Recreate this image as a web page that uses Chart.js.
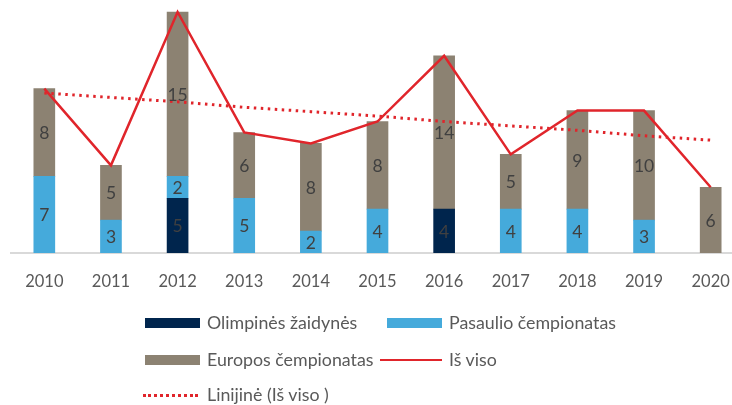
<!DOCTYPE html>
<html>
<head>
<meta charset="utf-8">
<script src="https://cdn.jsdelivr.net/npm/chart.js@4"></script>
<style>
  body { margin: 0; width: 732px; height: 405px; overflow: hidden; background: #fff; font-family: Lato, "Open Sans", sans-serif; }
  #wrap { position: absolute; left: 0; top: 0; width: 745px; height: 405px; }
  .leg { position: absolute; font-size: 17.8px; color: #595959; white-space: nowrap; line-height: 22px; }
  .sw { position: absolute; }
</style>
</head>
<body>
<div id="wrap"><canvas id="grafikas"></canvas></div>
<div id="legenda"></div>
<script>
const metai = ['2010', '2011', '2012', '2013', '2014', '2015', '2016', '2017', '2018', '2019', '2020'];
const olimpines = [null, null, 5, null, null, null, 4, null, null, null, null];
const pasaulio = [7, 3, 2, 5, 2, 4, null, 4, 4, 3, null];
const europos = [8, 5, 15, 6, 8, 8, 14, 5, 9, 10, 6];
const isViso = [15, 8, 22, 11, 10, 12, 18, 9, 13, 13, 6];
// trend line
const linijine = [14.6, 14.2, 13.8, 13.3, 12.9, 12.5, 12.0, 11.6, 11.2, 10.7, 10.3];

const pavadinimai = ['Olimpinės žaidynės', 'Pasaulio čempionatas', 'Europos čempionatas', 'Iš viso', 'Linijinė (Iš viso )'];
const spalvos = ['#00254D', '#45AADB', '#8C8272', '#E0252B', '#E0252B'];

const reiksmiuZymes = {
    id: 'reiksmiuZymes',
    afterDatasetsDraw(chart) {
        const ctx = chart.ctx;
        ctx.save();
        ctx.font = '17.5px Lato, "Open Sans", sans-serif';
        ctx.fillStyle = '#404040';
        ctx.textAlign = 'center';
        ctx.textBaseline = 'middle';
        chart.data.datasets.forEach((ds, i) => {
            if (ds.type !== 'bar') return;
            chart.getDatasetMeta(i).data.forEach((el, j) => {
                const v = ds.data[j];
                if (!v) return;
                ctx.fillText(v, el.x, (el.y + el.base) / 2 + 1);
            });
        });
        ctx.restore();
    }
};

new Chart(document.getElementById('grafikas'), {
    data: {
        labels: metai,
        datasets: [
            { type: 'line', label: pavadinimai[3], data: isViso, stack: 'viso', borderColor: spalvos[3], borderWidth: 2.5, pointRadius: 0, tension: 0, order: 1 },
            { type: 'line', label: pavadinimai[4], data: linijine, stack: 'trend', borderColor: spalvos[4], borderWidth: 3, borderDash: [2.5, 4.5], pointRadius: 0, tension: 0, order: 0 },
            { type: 'bar', label: pavadinimai[0], data: olimpines, backgroundColor: spalvos[0], stack: 'b', order: 2 },
            { type: 'bar', label: pavadinimai[1], data: pasaulio, backgroundColor: spalvos[1], stack: 'b', order: 2 },
            { type: 'bar', label: pavadinimai[2], data: europos, backgroundColor: spalvos[2], stack: 'b', order: 2 }
        ]
    },
    options: {
        responsive: true,
        maintainAspectRatio: false,
        animation: false,
        layout: { padding: { left: 11, right: 1, top: 1 } },
        datasets: { bar: { barThickness: 21 } },
        plugins: { legend: { display: false }, tooltip: { enabled: false } },
        scales: {
            x: {
                stacked: true,
                grid: { display: false },
                border: { color: '#D9D9D9', width: 2 },
                ticks: { color: '#595959', font: { size: 16.5, family: 'Lato, "Open Sans", sans-serif' }, padding: 11 },
                afterFit(s) { s.height = 152; }
            },
            y: { stacked: true, display: false, min: 0, max: 23 }
        }
    },
    plugins: [reiksmiuZymes]
});

// legend in two columns
const vietos = [[145, 323], [387, 323], [145, 360], [387, 360], [145, 395]];
const legenda = document.getElementById('legenda');
pavadinimai.forEach((p, i) => {
    const [x, y] = vietos[i];
    const sw = document.createElement('div');
    sw.className = 'sw';
    if (i < 3) {
        sw.style.cssText = `left:${x}px;top:${y - 5}px;width:55px;height:10px;background:${spalvos[i]}`;
    } else if (i === 3) {
        sw.style.cssText = `left:${x - 7}px;top:${y - 1}px;width:62px;height:2px;background:${spalvos[i]}`;
    } else {
        sw.style.cssText = `left:${x - 2}px;top:${y - 1}px;width:55px;height:0;border-top:3px dotted ${spalvos[i]}`;
    }
    legenda.appendChild(sw);
    const t = document.createElement('div');
    t.className = 'leg';
    t.style.left = (x + 62) + 'px';
    t.style.top = (y - 12) + 'px';
    t.textContent = p;
    legenda.appendChild(t);
});
</script>
</body>
</html>
